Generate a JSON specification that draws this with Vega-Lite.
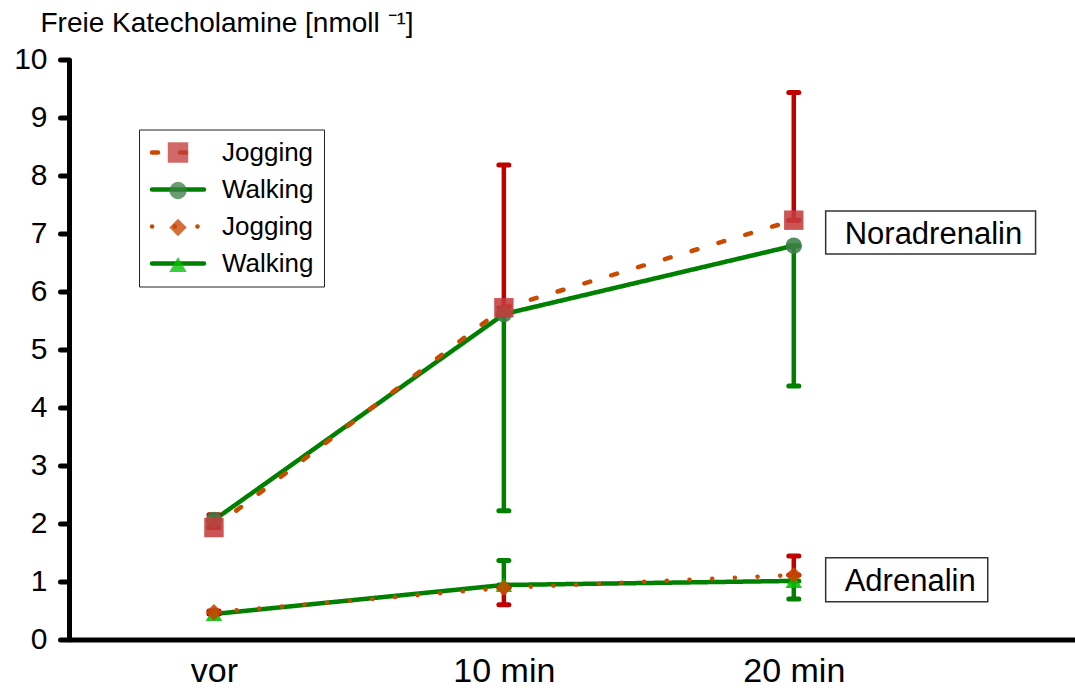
{
  "$schema": "https://vega.github.io/schema/vega-lite/v6.json",
  "width": 1006,
  "height": 580,
  "autosize": {"type": "none"},
  "padding": {"left": 69, "top": 59.5, "right": 0, "bottom": 48.5},
  "background": "white",
  "config": {"view": {"stroke": null}, "font": "Liberation Sans"},
  "datasets": {
    "pts": [
      {"s": "Walking N", "t": 0, "v": 2.06},
      {"s": "Walking N", "t": 1, "v": 5.61},
      {"s": "Walking N", "t": 2, "v": 6.79},
      {"s": "Walking A", "t": 0, "v": 0.44},
      {"s": "Walking A", "t": 1, "v": 0.94},
      {"s": "Walking A", "t": 2, "v": 1.01},
      {"s": "Jogging N", "t": 0, "v": 1.93},
      {"s": "Jogging N", "t": 1, "v": 5.72},
      {"s": "Jogging N", "t": 2, "v": 7.23},
      {"s": "Jogging A", "t": 0, "v": 0.47},
      {"s": "Jogging A", "t": 1, "v": 0.89},
      {"s": "Jogging A", "t": 2, "v": 1.11}
    ],
    "err": [
      {"g": "Walking", "t": 1, "lo": 2.22, "hi": 5.61},
      {"g": "Walking", "t": 2, "lo": 4.37, "hi": 6.79},
      {"g": "Walking", "t": 1, "lo": 0.94, "hi": 1.36},
      {"g": "Walking", "t": 2, "lo": 0.70, "hi": 1.01},
      {"g": "Jogging", "t": 0, "lo": 1.93, "hi": 2.15},
      {"g": "Jogging", "t": 1, "lo": 5.72, "hi": 8.18},
      {"g": "Jogging", "t": 2, "lo": 7.23, "hi": 9.43},
      {"g": "Jogging", "t": 0, "lo": 0.44, "hi": 0.49},
      {"g": "Jogging", "t": 1, "lo": 0.60, "hi": 0.89},
      {"g": "Jogging", "t": 2, "lo": 1.11, "hi": 1.44}
    ],
    "notes": [
      {"label": "Noradrenalin", "t": 2.11, "t2": 2.834, "lo": 6.648, "hi": 7.389, "v": 6.98},
      {"label": "Adrenalin", "t": 2.11, "t2": 2.669, "lo": 0.650, "hi": 1.408, "v": 0.99}
    ]
  },
  "layer": [
    {
      "mark": {"type": "rule", "strokeWidth": 5, "color": "black"},
      "encoding": {
        "y": {
          "datum": 10,
          "type": "quantitative",
          "scale": {"domain": [0, 10]},
          "axis": {
            "values": [0, 0.5, 1, 1.5, 2, 2.5, 3, 3.5, 4, 4.5, 5, 5.5, 6, 6.5, 7, 7.5, 8, 8.5, 9, 9.5, 10],
            "labelExpr": "datum.value % 1 == 0 ? format(datum.value, 'd') : ''",
            "tickSize": {"condition": {"test": "datum.value % 1 == 0", "value": 9}, "value": 5},
            "tickWidth": 5,
            "tickColor": "black",
            "tickCap": "round",
            "domainWidth": 5,
            "domainColor": "black",
            "grid": false,
            "labelFont": "Liberation Sans",
            "labelFontSize": 30,
            "labelColor": "black",
            "labelPadding": 13,
            "title": "Freie Katecholamine [nmoll ⁻¹]",
            "titleFont": "Liberation Sans",
            "titleFontSize": 28,
            "titleFontWeight": "normal",
            "titleColor": "black",
            "titleAngle": 0,
            "titleAlign": "left",
            "titleBaseline": "alphabetic",
            "titleX": -29,
            "titleY": -28
          }
        }
      }
    },
    {
      "data": {"name": "pts"},
      "mark": {"type": "line", "strokeWidth": 4.5, "strokeCap": "round"},
      "encoding": {
        "x": {
          "field": "t",
          "type": "quantitative",
          "scale": {"domain": [-0.5, 2.97], "nice": false, "zero": false},
          "axis": {
            "values": [0, 1, 2],
            "labelExpr": "datum.value == 0 ? 'vor' : datum.value == 1 ? '10 min' : '20 min'",
            "ticks": false,
            "tickSize": 0,
            "grid": false,
            "domainWidth": 5,
            "domainColor": "black",
            "labelFont": "Liberation Sans",
            "labelFontSize": 34,
            "labelColor": "black",
            "labelBaseline": "alphabetic",
            "labelPadding": 42,
            "labelFlush": false,
            "title": null
          }
        },
        "y": {"field": "v", "type": "quantitative"},
        "stroke": {
          "field": "s",
          "type": "nominal",
          "scale": {"domain": ["Jogging N", "Walking N", "Jogging A", "Walking A"], "range": ["#c84b00", "#008000", "#c84b00", "#008000"]},
          "legend": {
            "orient": "none",
            "legendX": 70,
            "legendY": 70,
            "zindex": 1,
            "title": null,
            "values": ["Jogging N", "Walking N", "Jogging A", "Walking A"],
            "labelExpr": "split(datum.label, ' ')[0]",
            "labelFont": "Liberation Sans",
            "labelFontSize": 26,
            "labelColor": "black",
            "labelOffset": 31,
            "symbolType": "M-3,0H3",
            "symbolSize": 300,
            "symbolStrokeWidth": 4.5,
            "symbolOffset": 16,
            "rowPadding": 11,
            "padding": 10,
            "strokeColor": "#222222",
            "encode": {"symbols": {"update": {"strokeCap": {"value": "round"}}}}
          }
        },
        "strokeDash": {
          "field": "s",
          "type": "nominal",
          "scale": {"domain": ["Jogging N", "Walking N", "Jogging A", "Walking A"], "range": [[6, 22], [1, 0], [0.1, 22.6], [1, 0]]},
          "legend": {
            "orient": "none",
            "legendX": 70,
            "legendY": 70,
            "zindex": 1,
            "title": null,
            "values": ["Jogging N", "Walking N", "Jogging A", "Walking A"],
            "labelExpr": "split(datum.label, ' ')[0]",
            "labelFont": "Liberation Sans",
            "labelFontSize": 26,
            "labelColor": "black",
            "labelOffset": 31,
            "symbolType": "M-3,0H3",
            "symbolSize": 300,
            "symbolStrokeWidth": 4.5,
            "symbolOffset": 16,
            "rowPadding": 11,
            "padding": 10,
            "strokeColor": "#222222"
          }
        }
      }
    },
    {
      "data": {"name": "err"},
      "mark": {"type": "rule", "strokeWidth": 4.5},
      "encoding": {
        "x": {"field": "t", "type": "quantitative"},
        "y": {"field": "lo", "type": "quantitative"},
        "y2": {"field": "hi"},
        "color": {"field": "g", "type": "nominal", "scale": {"domain": ["Jogging", "Walking"], "range": ["#c00000", "#008000"]}, "legend": null}
      }
    },
    {
      "data": {"name": "err"},
      "transform": [{"fold": ["lo", "hi"], "as": ["k", "val"]}],
      "mark": {"type": "point", "shape": "stroke", "size": 100, "strokeWidth": 5, "strokeCap": "round", "filled": false, "opacity": 1},
      "encoding": {
        "x": {"field": "t", "type": "quantitative"},
        "y": {"field": "val", "type": "quantitative"},
        "color": {"field": "g", "type": "nominal", "scale": {"domain": ["Jogging", "Walking"], "range": ["#c00000", "#008000"]}, "legend": null}
      }
    },
    {
      "data": {"name": "pts"},
      "mark": {"type": "point", "filled": true, "opacity": 0.88, "size": 270},
      "encoding": {
        "x": {"field": "t", "type": "quantitative"},
        "y": {"field": "v", "type": "quantitative"},
        "fill": {
          "field": "s",
          "type": "nominal",
          "scale": {"domain": ["Walking A", "Jogging A", "Walking N", "Jogging N"], "range": ["#00c000", "#c84600", "#3c8048", "#c43c3c"]},
          "legend": {
            "orient": "top-left",
            "offset": 70,
            "zindex": 2,
            "title": null,
            "values": ["Jogging N", "Walking N", "Jogging A", "Walking A"],
            "labelExpr": "split(datum.label, ' ')[0]",
            "labelFont": "Liberation Sans",
            "labelFontSize": 26,
            "labelColor": "transparent",
            "labelOffset": 31,
            "symbolSize": 300,
            "symbolOffset": 16,
            "rowPadding": 11,
            "padding": 10
          }
        },
        "shape": {
          "field": "s",
          "type": "nominal",
          "scale": {"domain": ["Walking A", "Jogging A", "Walking N", "Jogging N"], "range": ["triangle-up", "diamond", "circle", "M-1.18,-1.18H1.18V1.18H-1.18Z"]},
          "legend": {
            "orient": "top-left",
            "offset": 70,
            "zindex": 2,
            "title": null,
            "values": ["Jogging N", "Walking N", "Jogging A", "Walking A"],
            "labelExpr": "split(datum.label, ' ')[0]",
            "labelFont": "Liberation Sans",
            "labelFontSize": 26,
            "labelColor": "transparent",
            "labelOffset": 31,
            "symbolSize": 300,
            "symbolOffset": 16,
            "rowPadding": 11,
            "padding": 10
          }
        }
      }
    },
    {
      "data": {"name": "notes"},
      "mark": {"type": "rect", "fill": "white", "stroke": "#333333", "strokeWidth": 1.5},
      "encoding": {
        "x": {"field": "t", "type": "quantitative"},
        "x2": {"field": "t2"},
        "y": {"field": "lo", "type": "quantitative"},
        "y2": {"field": "hi"}
      }
    },
    {
      "data": {"name": "notes"},
      "mark": {"type": "text", "align": "left", "baseline": "middle", "dx": 19, "font": "Liberation Sans", "fontSize": 31, "color": "black"},
      "encoding": {
        "x": {"field": "t", "type": "quantitative"},
        "y": {"field": "v", "type": "quantitative"},
        "text": {"field": "label"}
      }
    }
  ]
}
